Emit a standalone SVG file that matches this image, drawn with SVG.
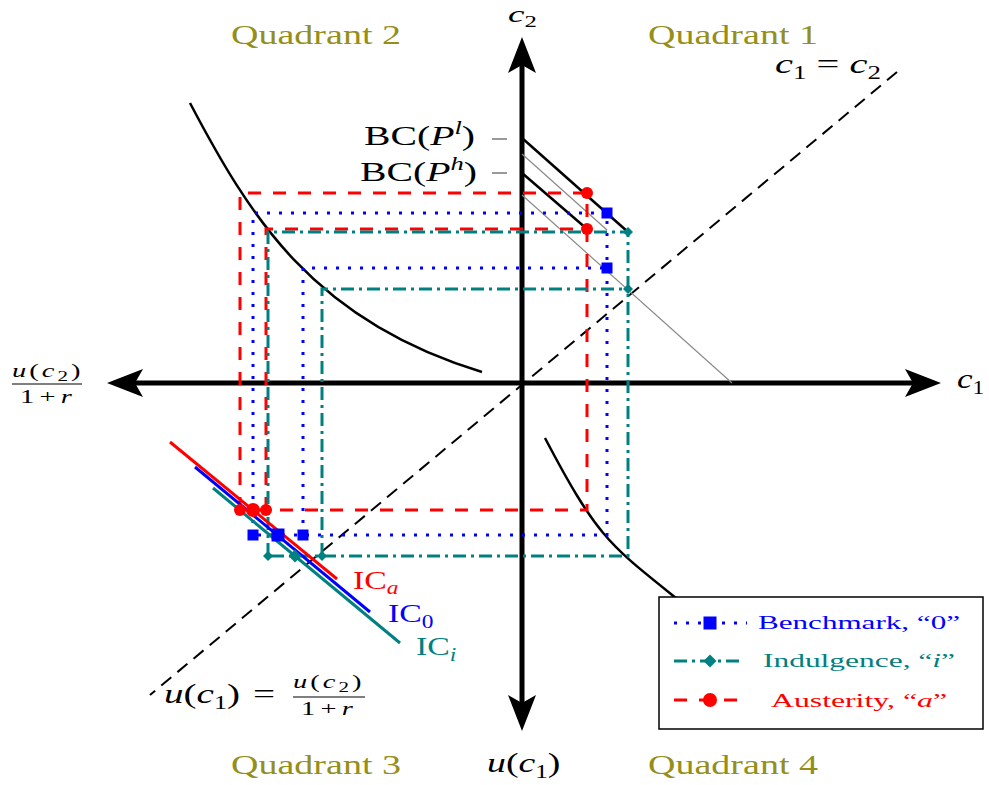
<svg xmlns="http://www.w3.org/2000/svg" xmlns:xlink="http://www.w3.org/1999/xlink" width="989" height="785" viewBox="0 0 989 785">
<style>
.ax{stroke:#000;stroke-width:5;fill:none}
.bk{stroke:#000;stroke-width:2.5;fill:none}
.gr{stroke:#8a8a8a;stroke-width:1.2;fill:none}
.dg{stroke:#000;stroke-width:2;stroke-dasharray:13 8;fill:none}
.bl{stroke:#0000ff;stroke-width:3;stroke-dasharray:3 9;fill:none}
.rd{stroke:#ff0000;stroke-width:3;stroke-dasharray:13 12;fill:none}
.tl{stroke:#008080;stroke-width:3;stroke-dasharray:13 5 3 5;fill:none}
.t{font-family:"Liberation Serif","DejaVu Serif",serif;font-size:27px;fill:#000}
.s{font-size:18px}
.f{font-size:19px;letter-spacing:2px}
.i{font-style:italic}
.q{fill:#958f1a}
.fb{stroke:#000;stroke-width:1.2}
</style>
<defs>
<path id="ah" d="M0,0 L-36,-14 L-28,0 L-36,14 Z" fill="#000"/>
<rect id="sq" x="-5.5" y="-5.5" width="11" height="11" fill="#0000ff"/>
<rect id="sqb" x="-6.5" y="-6.5" width="13" height="13" fill="#0000ff"/>
<circle id="rc" r="6" fill="#ff0000"/>
<circle id="rcb" r="7" fill="#ff0000"/>
<path id="dm" d="M0,-5 L5,0 L0,5 L-5,0 Z" fill="#008080"/>
<path id="dmb" d="M0,-6.5 L6.5,0 L0,6.5 L-6.5,0 Z" fill="#008080"/>
</defs>

<g id="axes">
<line class="ax" x1="125" y1="383" x2="925" y2="383"/>
<line class="ax" x1="522" y1="55" x2="522" y2="715"/>
<use xlink:href="#ah" transform="translate(941,383)"/>
<use xlink:href="#ah" transform="translate(107,383) rotate(180)"/>
<use xlink:href="#ah" transform="translate(522,37) rotate(-90)"/>
<use xlink:href="#ah" transform="translate(522,731) rotate(90)"/>
</g>

<g id="connectors">
<line class="dg" x1="897" y1="72" x2="150" y2="695"/>
<path class="bk" d="M522,138 L628,232"/>
<path class="bk" d="M522,173 L587,229"/>
<path class="gr" d="M522,154 L607,230"/>
<path class="gr" d="M522,195 L732,383"/>
<line x1="492" y1="139" x2="507" y2="139" stroke="#999" stroke-width="2"/>
<line x1="492" y1="173" x2="507" y2="173" stroke="#999" stroke-width="2"/>
<path class="bk" d="M190,103 C249.6,216.2 313.4,321.4 482,372"/>
<path class="bk" d="M545,438 C597,537 609.3,544.6 676,598"/>
<path class="rd" d="M240,510 V193 H587 V510 Z"/>
<path class="rd" d="M266,510 V229 H587"/>
<path class="bl" d="M253,535 V213 H607 V535 Z"/>
<path class="bl" d="M303,535 V268 H607"/>
<path class="tl" d="M268,556 V232 H628 V556 Z"/>
<path class="tl" d="M322,556 V289 H628"/>
<line x1="170" y1="442" x2="337" y2="579" stroke="#ff0000" stroke-width="3"/>
<line x1="195" y1="467" x2="370" y2="612" stroke="#0000ff" stroke-width="3"/>
<line x1="213" y1="488" x2="400" y2="643" stroke="#008080" stroke-width="3"/>
</g>

<g id="points">
<use xlink:href="#rc" x="587" y="193"/>
<use xlink:href="#rc" x="587" y="229"/>
<use xlink:href="#sq" x="607" y="213"/>
<use xlink:href="#sq" x="607" y="268"/>
<use xlink:href="#dm" x="628" y="232"/>
<use xlink:href="#dm" x="628" y="289"/>
<use xlink:href="#rc" x="240" y="510"/>
<use xlink:href="#rcb" x="253" y="510"/>
<use xlink:href="#rc" x="266" y="510"/>
<use xlink:href="#sq" x="253" y="535"/>
<use xlink:href="#sqb" x="278" y="535"/>
<use xlink:href="#sq" x="303" y="535"/>
<use xlink:href="#dm" x="268" y="556"/>
<use xlink:href="#dmb" x="295" y="556"/>
<use xlink:href="#dm" x="322" y="556"/>
</g>

<g id="labels">
<text class="t q" x="231" y="44" textLength="170" lengthAdjust="spacingAndGlyphs">Quadrant 2</text>
<text class="t q" x="648" y="44" textLength="170" lengthAdjust="spacingAndGlyphs">Quadrant 1</text>
<text class="t q" x="231" y="774" textLength="170" lengthAdjust="spacingAndGlyphs">Quadrant 3</text>
<text class="t q" x="648" y="774" textLength="170" lengthAdjust="spacingAndGlyphs">Quadrant 4</text>
<text class="t" style="font-size:24px" transform="translate(508,22) scale(1.55,1)"><tspan class="i">c</tspan><tspan style="font-size:16px" dy="5">2</tspan></text>
<text class="t" transform="translate(957,388) scale(1.3,1)"><tspan class="i">c</tspan><tspan class="s" dy="6">1</tspan></text>
<text class="t" transform="translate(775,73) scale(1.5,1)"><tspan class="i">c</tspan><tspan class="s" dy="6">1</tspan><tspan dy="-6"> = </tspan><tspan class="i">c</tspan><tspan class="s" dy="6">2</tspan></text>
<text class="t" transform="translate(487,772) scale(1.4,1)"><tspan class="i">u</tspan>(<tspan class="i">c</tspan><tspan class="s" dy="6">1</tspan><tspan dy="-6">)</tspan></text>
<text class="t" transform="translate(364,145) scale(1.47,1)">BC(<tspan class="i">P</tspan><tspan class="i s" dy="-11">l</tspan><tspan dy="11">)</tspan></text>
<text class="t" transform="translate(360,181) scale(1.47,1)">BC(<tspan class="i">P</tspan><tspan class="i s" dy="-11">h</tspan><tspan dy="11">)</tspan></text>
<text class="t f" transform="translate(12,377) scale(1.5,1)"><tspan class="i">u</tspan>(<tspan class="i">c</tspan><tspan font-size="14" dy="4">2</tspan><tspan dy="-4">)</tspan></text>
<line class="fb" x1="12" y1="384" x2="82" y2="384"/>
<text class="t f" style="letter-spacing:3.5px" transform="translate(20,403) scale(1.5,1)">1+<tspan class="i">r</tspan></text>
<text class="t" transform="translate(164,703) scale(1.45,1)"><tspan class="i">u</tspan>(<tspan class="i">c</tspan><tspan class="s" dy="6">1</tspan><tspan dy="-6">)</tspan></text>
<text class="t" transform="translate(253,703) scale(1.45,1)">=</text>
<text class="t f" transform="translate(293,688) scale(1.5,1)"><tspan class="i">u</tspan>(<tspan class="i">c</tspan><tspan font-size="14" dy="4">2</tspan><tspan dy="-4">)</tspan></text>
<line class="fb" x1="293" y1="697" x2="365" y2="697"/>
<text class="t f" style="letter-spacing:3.5px" transform="translate(301,715) scale(1.5,1)">1+<tspan class="i">r</tspan></text>
<text class="t" style="fill:#ff0000;font-size:26px" transform="translate(353,589) scale(1.3,1)">IC<tspan class="i s" dy="5">a</tspan></text>
<text class="t" style="fill:#0000ff;font-size:26px" transform="translate(388,622) scale(1.3,1)">IC<tspan class="s" dy="6">0</tspan></text>
<text class="t" style="fill:#008080;font-size:26px" transform="translate(416,655) scale(1.3,1)">IC<tspan class="i s" dy="6">i</tspan></text>
</g>

<g id="legend">
<rect x="659" y="597" width="324" height="132" fill="#fff" stroke="#000" stroke-width="1.5"/>
<line class="bl" x1="674" y1="623" x2="747" y2="623"/>
<use xlink:href="#sqb" x="710" y="623"/>
<line class="tl" x1="674" y1="661" x2="743" y2="661"/>
<use xlink:href="#dmb" x="710" y="661"/>
<line class="rd" x1="674" y1="700" x2="740" y2="700"/>
<use xlink:href="#rcb" x="710" y="700"/>
<text class="t" style="fill:#0000ff;font-size:19px" x="758" y="629" textLength="202" lengthAdjust="spacingAndGlyphs">Benchmark, “0”</text>
<text class="t" style="fill:#008080;font-size:19px" x="763" y="667" textLength="192" lengthAdjust="spacingAndGlyphs">Indulgence, “<tspan class="i">i</tspan>”</text>
<text class="t" style="fill:#ff0000;font-size:19px" x="771" y="707" textLength="176" lengthAdjust="spacingAndGlyphs">Austerity, “<tspan class="i">a</tspan>”</text>
</g>
</svg>
